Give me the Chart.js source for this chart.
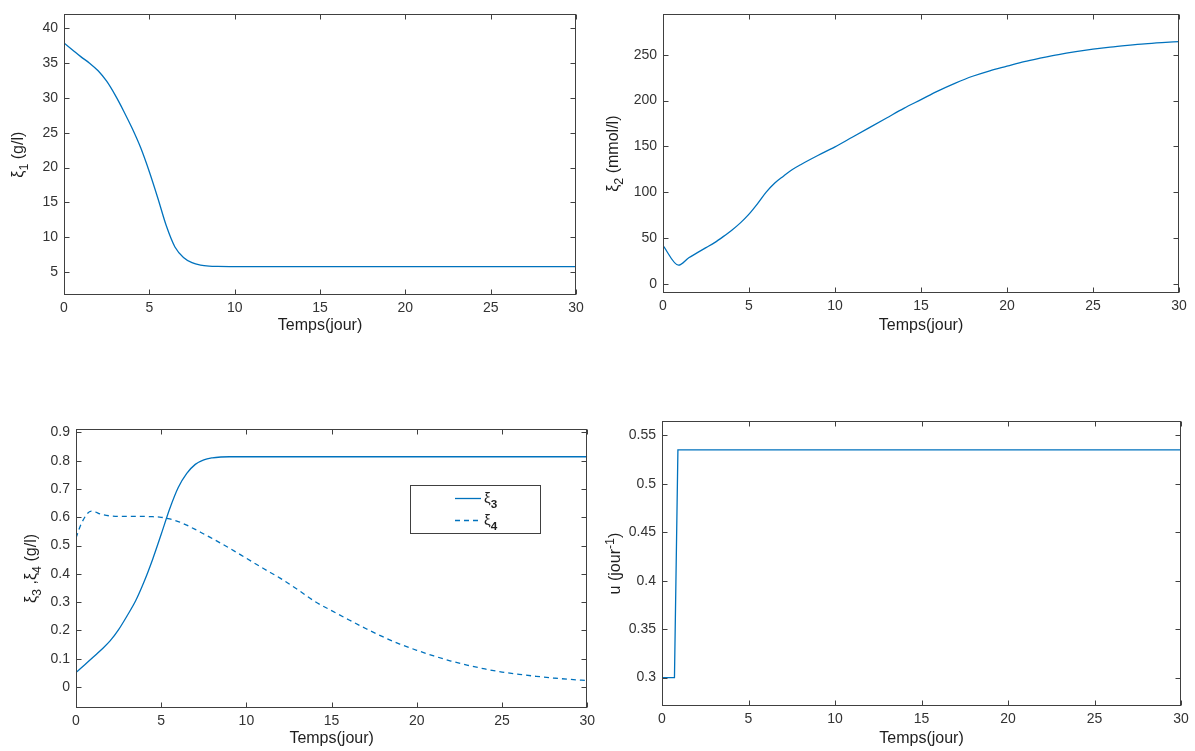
<!DOCTYPE html>
<html><head><meta charset="utf-8">
<script src="https://cdn.jsdelivr.net/npm/chart.js@4.4.0/dist/chart.umd.min.js"></script>
<style>
html,body{margin:0;padding:0;background:#fff;width:1195px;height:751px;overflow:hidden;position:relative}
canvas{position:absolute}
</style></head><body>
<canvas id="c1"></canvas><canvas id="c2"></canvas><canvas id="c3"></canvas><canvas id="c4"></canvas>
<script>
// ---------- data ----------
const xTicks = [0, 5, 10, 15, 20, 25, 30];

const t1  = [0,0.5,1,1.5,2,2.5,3,3.5,4,4.5,5,5.5,6,6.5,7,7.5,8,8.5,9,10,12,15,20,25,30];
const xi1 = [37.9,36.9,35.9,35.0,33.9,32.4,30.4,28.1,25.6,22.8,19.4,15.6,11.6,8.6,7.1,6.35,6.0,5.85,5.8,5.78,5.78,5.78,5.78,5.78,5.78];
const y1Ticks = [5,10,15,20,25,30,35,40];

const t2  = [0,0.9,1.5,2,2.5,3,3.5,4,4.5,5,5.5,6,6.5,7,7.5,8,9,10,11,12,13,14,15,16,17,18,19,20,21,22,23,24,25,26,27,28,29,30];
const xi2 = [41.8,20.4,28.5,34,39.5,45,51.5,58.5,66.5,76,87.5,100,110,117.5,124.5,130,140,149.5,160,170.5,181,191.5,201,210.5,219,226.5,232.5,237.5,242.5,246.5,250.2,253.3,256,258.3,260.2,261.9,263.2,264.3];
const y2Ticks = [0,50,100,150,200,250];

const t3  = [0,0.5,1,1.5,2,2.5,3,3.5,4,4.5,5,5.5,6,6.5,7,7.5,8,8.5,9,10,15,20,25,30];
const xi3 = [0.052,0.078,0.105,0.133,0.163,0.203,0.252,0.305,0.373,0.452,0.54,0.63,0.705,0.755,0.787,0.803,0.81,0.813,0.814,0.814,0.814,0.814,0.814,0.814];
const t4  = [0,0.33,0.9,1.5,2,3,4,4.5,5,5.5,6,6.5,7,7.5,8,9,10,11,12,13,14,15,16,17,18,19,20,21,22,23,24,25,26,27,28,29,30];
const xi4 = [0.527,0.58,0.622,0.61,0.605,0.603,0.603,0.602,0.6,0.594,0.585,0.572,0.557,0.541,0.525,0.491,0.455,0.419,0.384,0.345,0.303,0.27,0.238,0.207,0.178,0.152,0.13,0.11,0.092,0.077,0.064,0.053,0.045,0.038,0.032,0.027,0.023];
const y3Ticks = [0,0.1,0.2,0.3,0.4,0.5,0.6,0.7,0.8,0.9];

const tu = [0,0.72,0.92,30];
const u  = [0.3,0.3,0.535,0.535];
const y4Ticks = [0.3,0.35,0.4,0.45,0.5,0.55];

const xTitle = 'Temps(jour)';

// ---------- style ----------
const FONT = '"Liberation Sans", Arial, Helvetica, sans-serif';
const BLUE = '#0072BD';
const AX = '#404040';
const TXT = '#1f1f1f';
const TICK_SIZE = 14;
const TITLE_SIZE = 16;

function pts(t, v) { return t.map((x, i) => ({ x, y: v[i] })); }

function drawRich(ctx, segs, cx, cy, rot, size, align) {
  ctx.save();
  ctx.translate(cx, cy);
  ctx.rotate(rot);
  ctx.textBaseline = 'alphabetic';
  ctx.textAlign = 'left';
  const fontOf = s => {
    const sz = (s.sub || s.sup) ? size * 0.78 : size;
    return (s.bold ? 'bold ' : '') + sz + 'px ' + FONT;
  };
  let total = 0;
  const w = segs.map(s => { ctx.font = fontOf(s); const m = ctx.measureText(s.t).width; total += m; return m; });
  let x = align === 'left' ? 0 : -total / 2;
  const base = size * 0.36;
  segs.forEach((s, i) => {
    ctx.font = fontOf(s);
    let off = 0;
    if (s.sub) off = size * 0.3;
    if (s.sup) off = -size * 0.42;
    ctx.fillText(s.t, x, base + off);
    x += w[i];
  });
  ctx.restore();
}

const framePlugin = {
  id: 'frame',
  afterDraw(chart, args, opts) {
    const { ctx, chartArea: { left, top, right, bottom } } = chart;
    const xs = chart.scales.x, ys = chart.scales.y;
    ctx.save();
    ctx.strokeStyle = AX; ctx.lineWidth = 1;
    const L = Math.round(left) + 0.5, R = Math.round(right) - 0.5;
    const T = Math.round(top) + 0.5, B = Math.round(bottom) - 0.5;
    ctx.strokeRect(L, T, R - L, B - T);
    ctx.beginPath();
    const tl = 5;
    xs.ticks.forEach(tk => {
      const px = Math.round(xs.getPixelForValue(tk.value)) + 0.5;
      ctx.moveTo(px, B); ctx.lineTo(px, B - tl);
      ctx.moveTo(px, T); ctx.lineTo(px, T + tl);
    });
    ys.ticks.forEach(tk => {
      const py = Math.round(ys.getPixelForValue(tk.value)) + 0.5;
      ctx.moveTo(L, py); ctx.lineTo(L + tl, py);
      ctx.moveTo(R, py); ctx.lineTo(R - tl, py);
    });
    ctx.stroke();
    ctx.fillStyle = TXT;
    if (opts.ytitle) drawRich(ctx, opts.ytitle, opts.ytx, (top + bottom) / 2, -Math.PI / 2, TITLE_SIZE, 'center');
    if (opts.legend) {
      const lg = opts.legend;
      ctx.fillStyle = '#fff';
      ctx.fillRect(lg.x, lg.y, lg.w, lg.h);
      ctx.strokeStyle = AX;
      ctx.strokeRect(lg.x + 0.5, lg.y + 0.5, lg.w, lg.h);
      lg.items.forEach(it => {
        const ds = chart.data.datasets[it.ds];
        ctx.save();
        ctx.strokeStyle = ds.borderColor; ctx.lineWidth = ds.borderWidth;
        ctx.setLineDash(ds.borderDash || []);
        ctx.beginPath(); ctx.moveTo(lg.lx0, it.y + 0.5); ctx.lineTo(lg.lx1, it.y + 0.5); ctx.stroke();
        ctx.restore();
        ctx.fillStyle = TXT;
        drawRich(ctx, it.segs, lg.tx, it.y, 0, 15, 'left');
      });
    }
    ctx.restore();
  }
};

function fmt(v) { return String(Math.round(v * 1000) / 1000); }

function makePanel(id, geo, datasets, yMin, yMax, yTicks, frameOpts) {
  const cv = document.getElementById(id);
  cv.width = geo.w; cv.height = geo.h;
  cv.style.left = geo.left + 'px'; cv.style.top = geo.top + 'px';
  cv.style.width = geo.w + 'px'; cv.style.height = geo.h + 'px';
  const yWidth = geo.L - geo.left;
  const xHeight = geo.top + geo.h - geo.B;
  const titleLH = TITLE_SIZE * 1.2;
  const titlePadBottom = geo.top + geo.h - geo.titleY - titleLH / 2;
  frameOpts.ytx = frameOpts.ytxPage - geo.left;
  if (frameOpts.legend) {
    const lg = frameOpts.legend;
    lg.x -= geo.left; lg.y -= geo.top; lg.lx0 -= geo.left; lg.lx1 -= geo.left; lg.tx -= geo.left;
    lg.items.forEach(it => { it.y -= geo.top; });
  }
  return new Chart(cv, {
    type: 'line',
    data: { datasets },
    plugins: [framePlugin],
    options: {
      responsive: false,
      animation: false,
      devicePixelRatio: 1,
      layout: { padding: { left: 0, top: geo.T - geo.top, right: geo.left + geo.w - geo.R, bottom: 0 } },
      plugins: { legend: { display: false }, tooltip: { enabled: false }, frame: frameOpts },
      scales: {
        x: {
          type: 'linear', min: 0, max: 30,
          grid: { display: false, drawTicks: false },
          border: { display: false },
          afterBuildTicks: s => { s.ticks = xTicks.map(v => ({ value: v })); },
          afterFit: s => { s.height = xHeight; },
          ticks: { padding: 5, color: '#333', font: { family: FONT, size: TICK_SIZE }, maxRotation: 0, callback: fmt },
          title: { display: true, text: xTitle, color: TXT, font: { family: FONT, size: TITLE_SIZE }, padding: { top: 0, bottom: titlePadBottom } }
        },
        y: {
          type: 'linear', min: yMin, max: yMax,
          grid: { display: false, drawTicks: false },
          border: { display: false },
          afterBuildTicks: s => { s.ticks = yTicks.map(v => ({ value: v })); },
          afterFit: s => { s.width = yWidth; },
          ticks: { padding: 6, color: '#333', font: { family: FONT, size: TICK_SIZE }, callback: fmt }
        }
      }
    }
  });
}

const lineBase = { borderColor: BLUE, borderWidth: 1.3, pointRadius: 0, fill: false, cubicInterpolationMode: 'monotone' };

makePanel('c1', { left: 0, top: 0, w: 600, h: 345, L: 64, T: 13, R: 576, B: 295, titleY: 326 },
  [Object.assign({}, lineBase, { data: pts(t1, xi1) })],
  1.7, 42, y1Ticks,
  { ytitle: [{ t: 'ξ' }, { t: '1', sub: true }, { t: ' (g/l)' }], ytxPage: 17.5 });

makePanel('c2', { left: 600, top: 0, w: 595, h: 345, L: 663, T: 10, R: 1179, B: 293, titleY: 326 },
  [Object.assign({}, lineBase, { data: pts(t2, xi2) })],
  -10, 294, y2Ticks,
  { ytitle: [{ t: 'ξ' }, { t: '2', sub: true }, { t: ' (mmol/l)' }], ytxPage: 612.5 });

makePanel('c3', { left: 0, top: 400, w: 600, h: 351, L: 76, T: 429, R: 591, B: 708, titleY: 739 },
  [Object.assign({}, lineBase, { data: pts(t3, xi3) }),
   Object.assign({}, lineBase, { data: pts(t4, xi4), borderDash: [5, 4] })],
  -0.074, 0.912, y3Ticks,
  { ytitle: [{ t: 'ξ' }, { t: '3', sub: true }, { t: ' ,ξ' }, { t: '4', sub: true }, { t: ' (g/l)' }], ytxPage: 30,
    legend: { x: 410, y: 485, w: 130, h: 48, lx0: 455, lx1: 481, tx: 484,
      items: [{ ds: 0, y: 498, segs: [{ t: 'ξ' }, { t: '3', sub: true, bold: true }] },
              { ds: 1, y: 520, segs: [{ t: 'ξ' }, { t: '4', sub: true, bold: true }] }] } });

makePanel('c4', { left: 600, top: 400, w: 595, h: 351, L: 662, T: 421, R: 1181, B: 706, titleY: 739 },
  [Object.assign({}, lineBase, { data: pts(tu, u), cubicInterpolationMode: 'default', tension: 0 })],
  0.2707, 0.5648, y4Ticks,
  { ytitle: [{ t: 'u (jour' }, { t: '-1', sup: true }, { t: ')' }], ytxPage: 614.5 });
</script>
</body></html>
